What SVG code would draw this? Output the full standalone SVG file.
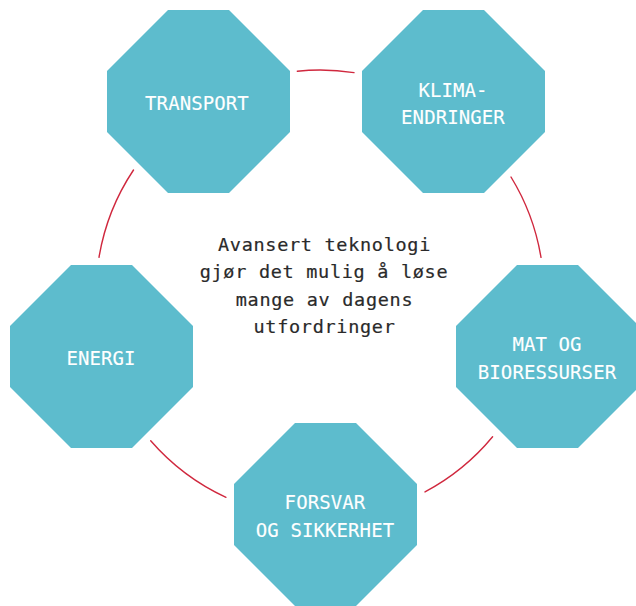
<svg xmlns="http://www.w3.org/2000/svg" xmlns:xlink="http://www.w3.org/1999/xlink" width="636" height="606" viewBox="0 0 636 606">
  <style>
    .ring { fill: none; stroke: #d0283e; stroke-width: 1.4; stroke-linecap: round; }
    .oct { fill: #5dbccd; }
    .label { font-family: "DejaVu Sans Mono", "Liberation Mono", monospace; font-size: 19px; fill: #ffffff; text-anchor: middle; letter-spacing: 0.1px; stroke: #ffffff; stroke-width: 0.12px; }
    .center { font-family: "DejaVu Sans Mono", "Liberation Mono", monospace; font-size: 18.5px; fill: #2a2a2a; text-anchor: middle; letter-spacing: 0.7px; stroke: #2a2a2a; stroke-width: 0.2px; }
  </style>
  <defs>
    <path id="octagon" d="M61,0 H122 L183,61 V122 L122,183 H61 L0,122 V61 Z"/>
  </defs>
  <rect width="636" height="606" fill="#ffffff"/>

  <!-- circle segments between the octagons (centre 320,294, r 224) -->
  <g id="connectors">
    <path class="ring" d="M297.3,71.2 A224,224 0 0 1 354,72.6"/>
    <path class="ring" d="M511,177 A224,224 0 0 1 541,257.4"/>
    <path class="ring" d="M492.6,436.8 A224,224 0 0 1 425,491.9"/>
    <path class="ring" d="M226,497.3 A224,224 0 0 1 150.7,440.7"/>
    <path class="ring" d="M99,257.3 A224,224 0 0 1 133.5,170"/>
  </g>

  <g id="transport">
    <use xlink:href="#octagon" class="oct" transform="translate(107,10)"/>
    <text class="label" x="197" y="110">TRANSPORT</text>
  </g>

  <g id="klima">
    <use xlink:href="#octagon" class="oct" transform="translate(362,10)"/>
    <text class="label" x="453" y="96.5">KLIMA-</text>
    <text class="label" x="453" y="124">ENDRINGER</text>
  </g>

  <g id="energi">
    <use xlink:href="#octagon" class="oct" transform="translate(10,265)"/>
    <text class="label" x="101" y="365">ENERGI</text>
  </g>

  <g id="mat">
    <use xlink:href="#octagon" class="oct" transform="translate(456,265)"/>
    <text class="label" x="547" y="351">MAT OG</text>
    <text class="label" x="547" y="378.5">BIORESSURSER</text>
  </g>

  <g id="forsvar">
    <use xlink:href="#octagon" class="oct" transform="translate(234,423)"/>
    <text class="label" x="325" y="509">FORSVAR</text>
    <text class="label" x="325" y="536.5">OG SIKKERHET</text>
  </g>

  <g id="centre-text">
    <text class="center" x="324.5" y="251">Avansert teknologi</text>
    <text class="center" x="324" y="278">gjør det mulig å løse</text>
    <text class="center" x="324.5" y="305.5">mange av dagens</text>
    <text class="center" x="324.5" y="333">utfordringer</text>
  </g>
</svg>
